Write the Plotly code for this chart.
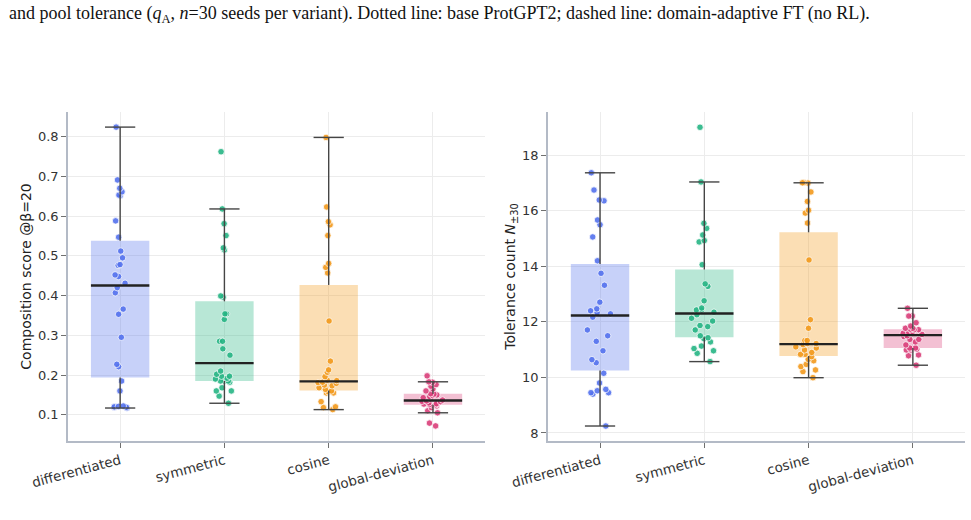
import numpy as np
import plotly.graph_objects as go
from plotly.subplots import make_subplots

categories = ["differentiated", "symmetric", "cosine", "global-deviation"]

comp_differentiated = [0.824, 0.691, 0.670, 0.661, 0.653, 0.651, 0.588, 0.547, 0.512, 0.495,
                       0.478, 0.476, 0.452, 0.448, 0.431, 0.420, 0.407, 0.366, 0.353, 0.295,
                       0.227, 0.221, 0.185, 0.160, 0.122, 0.121, 0.120, 0.119, 0.118, 0.117]
comp_symmetric = [0.762, 0.618, 0.581, 0.551, 0.520, 0.515, 0.399, 0.396, 0.354, 0.354,
                  0.340, 0.285, 0.285, 0.266, 0.250, 0.210, 0.202, 0.197, 0.197, 0.192,
                  0.190, 0.185, 0.185, 0.185, 0.182, 0.168, 0.160, 0.160, 0.147, 0.129]
comp_cosine = [0.798, 0.623, 0.586, 0.578, 0.551, 0.481, 0.471, 0.457, 0.336, 0.235,
               0.213, 0.207, 0.196, 0.187, 0.186, 0.182, 0.181, 0.179, 0.175, 0.173,
               0.168, 0.164, 0.160, 0.158, 0.155, 0.155, 0.133, 0.120, 0.118, 0.113]
comp_global = [0.198, 0.183, 0.182, 0.176, 0.172, 0.165, 0.160, 0.153, 0.152, 0.150,
               0.148, 0.146, 0.143, 0.140, 0.137, 0.135, 0.134, 0.133, 0.130, 0.128,
               0.127, 0.126, 0.125, 0.124, 0.122, 0.118, 0.110, 0.105, 0.079, 0.072]

tol_differentiated = [17.37, 16.75, 16.39, 16.36, 15.67, 15.50, 15.06, 14.20, 13.75, 13.32,
                      12.71, 12.47, 12.40, 12.33, 12.29, 12.17, 11.71, 11.50, 11.30, 10.96,
                      10.64, 10.53, 10.15, 9.80, 9.57, 9.52, 9.45, 9.45, 9.40, 8.25]
tol_symmetric = [19.01, 17.04, 15.55, 15.37, 15.13, 14.93, 14.88, 14.06, 13.37, 13.28,
                 12.76, 12.50, 12.43, 12.43, 12.35, 12.26, 12.13, 12.03, 11.87, 11.83,
                 11.71, 11.50, 11.43, 11.40, 11.28, 11.13, 11.04, 10.96, 10.87, 10.57]
tol_cosine = [17.01, 17.01, 17.00, 16.68, 16.34, 16.02, 15.92, 15.56, 14.23, 12.08,
              11.77, 11.33, 11.33, 11.22, 11.22, 11.18, 11.10, 11.06, 10.99, 10.90,
              10.83, 10.83, 10.75, 10.65, 10.60, 10.47, 10.39, 10.27, 10.21, 9.99]
tol_global = [12.49, 12.21, 12.21, 11.97, 11.85, 11.77, 11.77, 11.74, 11.72, 11.72,
              11.65, 11.62, 11.59, 11.59, 11.55, 11.50, 11.47, 11.37, 11.37, 11.28,
              11.17, 11.06, 11.06, 11.04, 11.02, 10.99, 10.99, 10.81, 10.78, 10.44]

comp_data = [comp_differentiated, comp_symmetric, comp_cosine, comp_global]
tol_data = [tol_differentiated, tol_symmetric, tol_cosine, tol_global]

point_colors = ["#5472EE", "#26B584", "#F39A1C", "#DA3F7A"]
fill_colors = ["rgba(84,114,238,0.33)", "rgba(38,181,132,0.33)",
               "rgba(243,154,28,0.33)", "rgba(218,63,122,0.33)"]

caption = ("and pool tolerance (<i>q</i><sub>A</sub>, <i>n</i>=30 seeds per variant). "
           "Dotted line: base ProtGPT2; dashed line: domain-adaptive FT (no RL).")

BOX_HALF = 0.28
CAP_HALF = 0.145

fig = make_subplots(rows=1, cols=2, horizontal_spacing=0.07)


def box_stats(vals):
    a = np.asarray(vals, dtype=float)
    q1, med, q3 = np.percentile(a, [25, 50, 75])
    iqr = q3 - q1
    hi = a[a <= q3 + 1.5 * iqr].max()
    lo = a[a >= q1 - 1.5 * iqr].min()
    return q1, med, q3, lo, hi


for col, dataset in ((1, comp_data), (2, tol_data)):
    for i, vals in enumerate(dataset):
        q1, med, q3, lo, hi = box_stats(vals)
        fig.add_trace(go.Bar(x=[i], y=[q3 - q1], base=[q1], width=2 * BOX_HALF,
                             marker=dict(color=fill_colors[i], line=dict(width=0)),
                             showlegend=False, hoverinfo="skip"), row=1, col=col)
        fig.add_trace(go.Scatter(
            x=[i, i, None, i, i, None, i - CAP_HALF, i + CAP_HALF, None, i - CAP_HALF, i + CAP_HALF],
            y=[q3, hi, None, q1, lo, None, hi, hi, None, lo, lo],
            mode="lines", line=dict(color="#454545", width=1.4),
            showlegend=False, hoverinfo="skip"), row=1, col=col)
        fig.add_trace(go.Box(
            x=[i] * len(vals), y=vals, boxpoints="all", jitter=0.45, pointpos=0,
            width=2 * BOX_HALF, fillcolor="rgba(0,0,0,0)", line=dict(width=0),
            marker=dict(color=point_colors[i], size=6.5, opacity=0.9,
                        line=dict(color="white", width=0.8)),
            showlegend=False), row=1, col=col)
        fig.add_trace(go.Scatter(x=[i - BOX_HALF, i + BOX_HALF], y=[med, med], mode="lines",
                                 line=dict(color="#222222", width=2.4),
                                 showlegend=False, hoverinfo="skip"), row=1, col=col)

axis_common = dict(showline=True, linecolor="#b3bac6", linewidth=1.5, mirror=False,
                   showgrid=True, gridcolor="#ececec", gridwidth=1, zeroline=False,
                   ticks="outside", ticklen=5, tickcolor="#707070",
                   tickfont=dict(family="DejaVu Sans", size=13, color="#333333"))

xaxis_style = dict(axis_common)
xaxis_style["tickfont"] = dict(family="DejaVu Sans", size=13.5, color="#333333")

for c in (1, 2):
    fig.update_xaxes(range=[-0.5, 3.5], tickvals=[0, 1, 2, 3], ticktext=categories,
                     tickangle=-15, row=1, col=c, **xaxis_style)

fig.update_yaxes(range=[0.034, 0.862], tickvals=[0.1, 0.2, 0.3, 0.4, 0.5, 0.6, 0.7, 0.8],
                 tickformat=".1f", row=1, col=1,
                 title=dict(text="Composition score @β=20",
                            font=dict(family="DejaVu Sans", size=14, color="#222222"),
                            standoff=3),
                 **axis_common)
fig.update_yaxes(range=[7.71, 19.56], tickvals=[8, 10, 12, 14, 16, 18], row=1, col=2,
                 title=dict(text="Tolerance count <i>N</i><sub>±30</sub>",
                            font=dict(family="DejaVu Sans", size=14, color="#222222"),
                            standoff=3),
                 **axis_common)

fig.update_xaxes(domain=[0.0, 0.465], row=1, col=1)
fig.update_xaxes(domain=[0.535, 1.0], row=1, col=2)

fig.add_annotation(text=caption, xref="paper", yref="paper", x=-0.068, y=1.295,
                   xanchor="left", yanchor="middle", showarrow=False,
                   font=dict(family="Liberation Serif", size=18, color="#111111"))

fig.update_layout(width=971, height=520, margin=dict(l=68, r=6, t=112, b=79),
                  paper_bgcolor="white", plot_bgcolor="white", barmode="overlay",
                  boxmode="overlay", showlegend=False,
                  font=dict(family="DejaVu Sans", color="#333333"))

fig.write_html("out.html")
